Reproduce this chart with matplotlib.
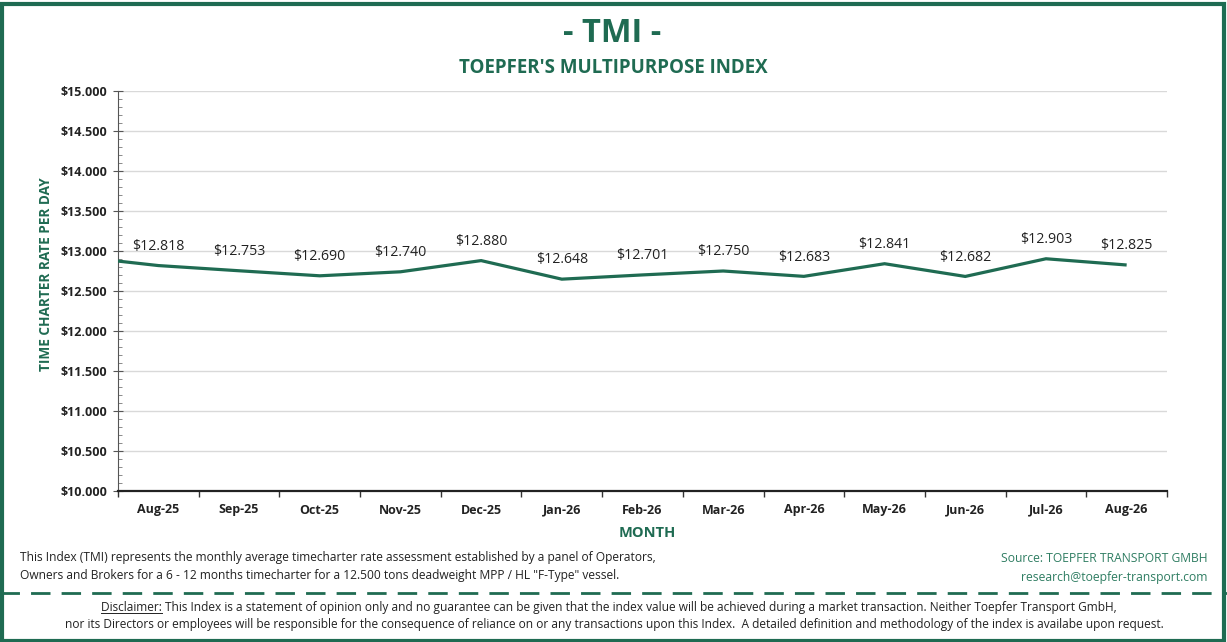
import matplotlib
matplotlib.use("Agg")
import matplotlib.pyplot as plt
from matplotlib.lines import Line2D
from matplotlib.patches import Rectangle
import numpy as np

plt.rcParams['font.family'] = ['Open Sans', 'DejaVu Sans']

# ---- data ----
months = ["Aug-25", "Sep-25", "Oct-25", "Nov-25", "Dec-25", "Jan-26", "Feb-26",
          "Mar-26", "Apr-26", "May-26", "Jun-26", "Jul-26", "Aug-26"]
values = [12818, 12753, 12690, 12740, 12880, 12648, 12701,
          12750, 12683, 12841, 12682, 12903, 12825]
prev_value = 12930  # preceding month (Jul-25), only visible as the line entering from the left edge
y_ticks = [10000, 10500, 11000, 11500, 12000, 12500, 13000, 13500, 14000, 14500, 15000]

GREEN = "#1f6b52"
GREEN_LIGHT = "#2f7d62"
TEXT = "#222222"

W, H = 1227, 642
fig = plt.figure(figsize=(W / 100, H / 100), dpi=100)

def fx(px):
    return px / W

def fy(py):
    return 1 - py / H

ax = fig.add_axes([fx(118), fy(491), fx(1167) - fx(118), fy(91) - fy(491)])

x = np.arange(len(months))
ax.plot(np.concatenate([[-1], x]), [prev_value] + values, color=GREEN, lw=2.3,
        solid_capstyle='butt', solid_joinstyle='miter', zorder=3)

for xi, v in zip(x, values):
    ax.annotate(f"${v/1000:.3f}", (xi, v), xytext=(0, 8.5), textcoords='offset points',
                ha='center', va='bottom', fontsize=10.2, color=TEXT, zorder=4)

ax.set_xlim(-0.5, len(months) - 0.5)
ax.set_ylim(10000, 15000)
ax.set_yticks(y_ticks)
ax.set_yticklabels([f"${t/1000:.3f}" for t in y_ticks], fontweight='bold', fontsize=9, color=TEXT)
ax.set_yticks(np.arange(10000, 15001, 100), minor=True)
ax.tick_params(axis='y', which='major', direction='inout', length=7, width=0.8, color='#555555', pad=4)
ax.tick_params(axis='y', which='minor', direction='in', length=3, width=0.6, color='#777777')

ax.set_xticks(np.arange(-0.5, len(months), 1.0))
ax.set_xticklabels([])
ax.set_xticks(x, minor=True)
ax.set_xticklabels(months, minor=True, fontweight='bold', fontsize=9, color=TEXT)
ax.tick_params(axis='x', which='major', direction='out', length=4, width=1.0, color='#333333')
ax.tick_params(axis='x', which='minor', length=0, pad=9)

ax.grid(axis='y', which='major', color='#d9d9d9', lw=1.0)
ax.set_axisbelow(True)
for s in ['top', 'right']:
    ax.spines[s].set_visible(False)
ax.spines['left'].set_color('#555555')
ax.spines['left'].set_linewidth(0.8)
ax.spines['bottom'].set_color('#222222')
ax.spines['bottom'].set_linewidth(1.6)

# axis titles
fig.text(fx(46), fy(274), "TIME CHARTER RATE PER DAY", rotation=90, ha='center', va='center',
         fontweight='bold', fontsize=9.8, color=GREEN)
fig.text(fx(647), fy(533), "MONTH", ha='center', va='center', fontweight='bold', fontsize=10.5, color=GREEN)

# titles
fig.text(fx(612), fy(34), "- TMI -", ha='center', va='center', fontsize=23.5, fontweight='bold', color=GREEN)
fig.text(fx(613), fy(68), "TOEPFER'S MULTIPURPOSE INDEX", ha='center', va='center',
         fontsize=13.5, fontweight='bold', color=GREEN)

# footnotes
fig.text(fx(20), fy(557), "This Index (TMI) represents the monthly average timecharter rate assessment established by a panel of Operators,",
         ha='left', va='center', fontsize=8.65, color=TEXT)
fig.text(fx(20), fy(575), "Owners and Brokers for a 6 - 12 months timecharter for a 12.500 tons deadweight MPP / HL \"F-Type\" vessel.",
         ha='left', va='center', fontsize=8.65, color=TEXT)
fig.text(fx(1208), fy(559), "Source: TOEPFER TRANSPORT GMBH", ha='right', va='center', fontsize=8.7, color=GREEN_LIGHT)
fig.text(fx(1208), fy(577), "research@toepfer-transport.com", ha='right', va='center', fontsize=8.7, color=GREEN_LIGHT)

# dashed separator
fig.add_artist(Line2D([0, 1], [fy(593), fy(593)], transform=fig.transFigure, color=GREEN,
                      lw=2.0, dashes=(7, 4)))

# disclaimer
line1 = ("Disclaimer: This Index is a statement of opinion only and no guarantee can be given that the index value "
         "will be achieved during a market transaction. Neither Toepfer Transport GmbH,")
line2 = ("nor its Directors or employees will be responsible for the consequence of reliance on or any transactions "
         "upon this Index.  A detailed definition and methodology of the index is availabe upon request.")
DFS = 8.55
t1 = fig.text(fx(609), fy(611), line1, ha='center', va='baseline', fontsize=DFS, color=TEXT)
fig.text(fx(614), fy(628), line2, ha='center', va='baseline', fontsize=DFS, color=TEXT)

fig.canvas.draw()
r = fig.canvas.get_renderer()
bb = t1.get_window_extent(r)
tmp = fig.text(0, 0, "Disclaimer:", fontsize=DFS)
wbb = tmp.get_window_extent(r)
tmp.remove()
y_ul = fy(611) - 2.0 / H
fig.add_artist(Line2D([bb.x0 / W, (bb.x0 + wbb.width) / W], [y_ul, y_ul],
                      transform=fig.transFigure, color=TEXT, lw=0.7))

# outer frame
fig.add_artist(Rectangle((1.5 / W, 1.5 / H), 1 - 5 / W, 1 - 5 / H, transform=fig.transFigure,
                         fill=False, edgecolor=GREEN, lw=3))

fig.savefig("out.png", dpi=100)
